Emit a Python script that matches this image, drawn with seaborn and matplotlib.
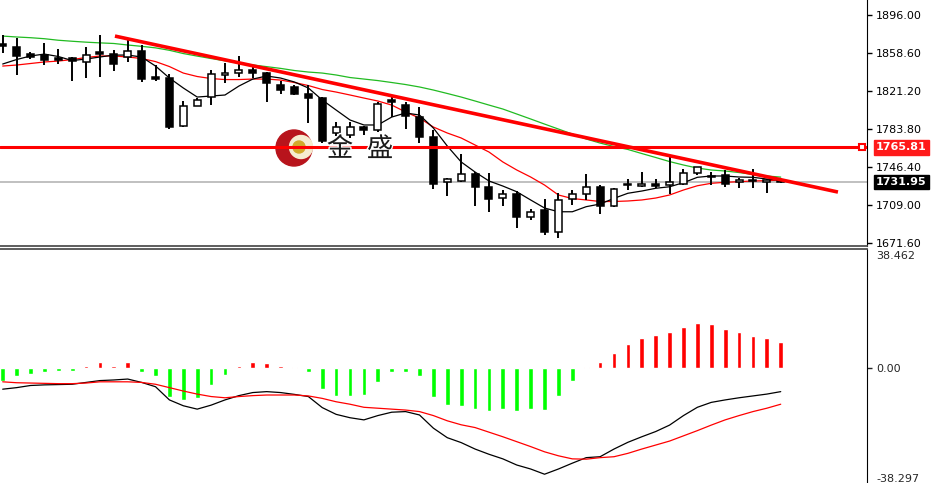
import matplotlib
matplotlib.use("Agg")
import matplotlib.pyplot as plt
import matplotlib.transforms as mtrans
import matplotlib.patheffects as pe
from matplotlib.patches import Circle
import numpy as np
import pandas as pd
import seaborn as sns

# ---- price candles ----
opens = [1867.5, 1864.5, 1857.6, 1856.6, 1853.7, 1853.7, 1850.2, 1859.6, 1858.1, 1855.1,
         1860.6, 1835.0, 1834.5, 1786.8, 1806.4, 1815.8, 1837.0, 1838.9, 1841.9, 1839.4,
         1827.6, 1825.1, 1818.3, 1814.8, 1779.9, 1777.9, 1785.8, 1782.8, 1812.4, 1807.4,
         1796.1, 1776.4, 1731.2, 1732.2, 1739.5, 1726.3, 1716.4, 1719.4, 1697.7, 1704.1,
         1682.0, 1714.9, 1719.9, 1726.3, 1707.6, 1728.7, 1728.2, 1730.2, 1728.7, 1730.2,
         1741.0, 1737.6, 1738.6, 1731.2, 1733.2, 1731.7, 1732.4]
closes = [1865.5, 1855.7, 1854.7, 1851.7, 1851.7, 1850.7, 1856.6, 1857.6, 1847.8, 1861.1,
          1833.0, 1833.0, 1786.3, 1806.4, 1812.4, 1838.4, 1839.4, 1841.9, 1838.9, 1829.1,
          1822.2, 1818.3, 1814.3, 1772.5, 1785.8, 1786.3, 1782.8, 1808.9, 1810.4, 1796.6,
          1776.4, 1730.2, 1735.1, 1739.5, 1726.3, 1715.4, 1719.9, 1697.7, 1701.7, 1682.0,
          1713.5, 1719.4, 1726.3, 1708.5, 1724.8, 1730.2, 1730.2, 1728.2, 1731.2, 1741.0,
          1746.4, 1736.6, 1730.2, 1734.1, 1732.2, 1734.1, 1731.95]
highs = [1876.3, 1873.4, 1860.1, 1868.4, 1862.5, 1855.1, 1865.0, 1876.3, 1861.6, 1871.4,
         1866.5, 1846.8, 1838.4, 1811.4, 1814.3, 1841.9, 1848.8, 1855.7, 1844.8, 1840.4,
         1830.6, 1827.1, 1827.1, 1815.8, 1790.7, 1791.2, 1786.8, 1810.9, 1815.8, 1810.9,
         1805.9, 1782.8, 1735.6, 1759.2, 1741.9, 1741.0, 1724.3, 1723.3, 1705.6, 1714.5,
         1721.3, 1723.8, 1740.0, 1728.7, 1725.8, 1734.6, 1741.9, 1734.6, 1756.8, 1744.5,
         1746.9, 1741.9, 1743.5, 1735.6, 1744.9, 1734.6, 1733.0]
lows = [1858.6, 1837.0, 1853.2, 1846.8, 1847.8, 1831.0, 1834.0, 1835.0, 1841.4, 1849.7,
        1830.1, 1831.0, 1784.3, 1785.8, 1806.0, 1807.4, 1829.0, 1835.0, 1834.5, 1810.9,
        1818.3, 1817.3, 1789.7, 1770.5, 1776.9, 1774.5, 1777.9, 1780.8, 1796.1, 1784.3,
        1769.6, 1724.8, 1717.9, 1731.7, 1708.0, 1702.6, 1707.6, 1686.9, 1694.3, 1679.5,
        1677.0, 1709.0, 1714.0, 1700.2, 1707.0, 1723.8, 1726.7, 1725.3, 1720.0, 1728.7,
        1738.6, 1728.7, 1727.2, 1725.3, 1725.3, 1720.8, 1731.0]

# moving averages
ma_fast = [1847.8, 1852.2, 1855.7, 1857.6, 1855.2, 1851.2, 1852.7, 1854.7, 1856.6, 1856.6,
           1854.7, 1845.8, 1834.0, 1824.2, 1815.3, 1816.3, 1817.3, 1826.1, 1833.0, 1836.0,
           1834.0, 1830.1, 1824.2, 1812.4, 1802.5, 1792.7, 1787.8, 1787.8, 1795.6, 1799.6,
           1797.6, 1784.8, 1767.1, 1751.4, 1741.5, 1732.7, 1727.7, 1722.1, 1714.0, 1706.1,
           1702.4, 1702.4, 1707.4, 1710.0, 1715.6, 1720.6, 1722.8, 1725.5, 1727.0, 1731.0,
           1736.3, 1737.6, 1737.6, 1736.6, 1736.3, 1734.6, 1733.6]
ma_mid = [1845.8, 1846.8, 1848.3, 1849.8, 1850.7, 1852.2, 1854.2, 1855.7, 1855.7, 1854.7,
          1853.2, 1850.2, 1845.3, 1838.9, 1835.5, 1833.5, 1832.5, 1832.5, 1833.0, 1833.0,
          1832.0, 1829.6, 1826.6, 1822.7, 1820.2, 1817.3, 1814.3, 1811.4, 1807.4, 1800.6,
          1794.6, 1785.8, 1779.9, 1775.0, 1768.1, 1761.2, 1751.4, 1743.5, 1736.6, 1728.7,
          1718.9, 1715.4, 1714.0, 1712.5, 1712.5, 1713.0, 1714.0, 1715.9, 1718.9, 1723.8,
          1728.0, 1730.4, 1731.4, 1732.0, 1732.7, 1733.0, 1733.6]
ma_slow = [1875.3, 1874.4, 1873.7, 1872.7, 1871.2, 1870.2, 1869.3, 1868.6, 1868.0, 1866.5,
           1865.2, 1863.7, 1861.3, 1858.1, 1855.6, 1853.2, 1850.9, 1848.7, 1846.9, 1845.2,
           1843.5, 1841.4, 1839.9, 1838.9, 1837.0, 1834.5, 1833.0, 1831.5, 1829.6, 1827.6,
           1825.2, 1822.2, 1818.8, 1815.3, 1811.4, 1807.4, 1803.5, 1798.6, 1793.7, 1788.7,
           1783.8, 1778.9, 1774.0, 1770.0, 1766.6, 1763.7, 1759.7, 1755.8, 1751.8, 1748.4,
           1745.4, 1743.5, 1742.5, 1741.0, 1739.1, 1737.6, 1736.5]

# MACD panel
macd_hist = [-4.2, -2.5, -1.8, -1.2, -0.9, -0.8, 0.8, 1.9, 0.8, 1.9,
             -1.1, -2.5, -9.3, -10.4, -9.7, -5.5, -2.3, 0.6, 2.2, 1.7,
             0.8, 0.3, -1.1, -6.9, -9.0, -9.0, -8.8, -4.4, -1.3, -1.1,
             -2.5, -9.3, -12.0, -12.2, -13.1, -13.9, -13.1, -13.9, -13.1, -13.6,
             -9.0, -4.1, 0.5, 2.0, 5.1, 7.9, 9.8, 10.8, 11.7, 13.6,
             14.7, 14.3, 12.8, 11.7, 10.6, 9.8, 8.7]
macd_main = [-6.8, -6.3, -5.6, -5.4, -5.3, -5.2, -4.6, -4.0, -3.8, -3.5,
             -4.6, -6.0, -10.3, -12.2, -13.3, -12.0, -10.3, -8.9, -7.9, -7.6,
             -7.9, -8.5, -9.2, -12.8, -15.0, -16.1, -16.8, -15.4, -14.3, -14.1,
             -15.2, -19.5, -22.6, -24.2, -26.3, -28.0, -29.5, -31.5, -32.8, -34.5,
             -32.8, -30.9, -29.1, -28.8, -26.3, -24.1, -22.3, -20.6, -18.5, -15.4,
             -12.7, -11.1, -10.3, -9.6, -9.0, -8.4, -7.6]
macd_signal = [-4.4, -4.7, -4.8, -4.9, -5.0, -5.0, -4.8, -4.4, -4.4, -4.4,
               -4.6, -5.2, -6.3, -7.4, -8.4, -9.2, -9.6, -9.2, -8.9, -8.7,
               -8.7, -8.7, -9.0, -9.8, -10.9, -11.7, -12.7, -13.0, -13.3, -13.6,
               -14.1, -15.4, -17.1, -18.4, -19.3, -20.8, -22.3, -23.9, -25.5, -27.2,
               -28.5, -29.5, -29.6, -29.1, -28.8, -27.7, -26.3, -25.0, -23.7, -22.0,
               -20.3, -18.5, -16.8, -15.4, -14.1, -13.0, -11.7]

price_ticks = [1896.00, 1858.60, 1821.20, 1783.80, 1746.40, 1709.00, 1671.60]
level_price = 1765.81
last_price = 1731.95
trend_idx = [8.08, 60.12]
trend_price = [1875.3, 1721.8]
macd_top = 38.462
macd_bottom = -38.297

W, H = 931, 483
XL = (-0.194, 62.21)


def draw_candles(ax, df):
    ax.vlines(df["idx"], df["low"], df["high"], color="black", lw=1.4, zorder=3)
    bottoms = np.minimum(df["open"], df["close"])
    heights = np.maximum(np.abs(df["close"] - df["open"]), 0.9)
    colors = np.where(df["close"] > df["open"], "white", "black")
    ax.bar(df["idx"], heights, bottom=bottoms, width=0.5, color=colors,
           edgecolor="black", linewidth=1.1, zorder=4)


def price_tag(ax, y, text, bg):
    tr = mtrans.blended_transform_factory(ax.transAxes, ax.transData)
    ax.text(1.0105, y, text, transform=tr, ha="left", va="center", color="white",
            fontsize=8, fontweight="bold", clip_on=False, zorder=10,
            bbox=dict(boxstyle="square,pad=0.2", fc=bg, ec=bg))


sns.set_style("white")
plt.rcParams["font.family"] = ["DejaVu Sans", "Noto Sans CJK SC"]

df = pd.DataFrame({"idx": np.arange(len(opens)), "open": opens, "close": closes,
                   "high": highs, "low": lows, "ma_fast": ma_fast, "ma_mid": ma_mid,
                   "ma_slow": ma_slow, "hist": macd_hist, "main": macd_main,
                   "signal": macd_signal})

fig = plt.figure(figsize=(W / 100, H / 100), dpi=100)
ax1 = fig.add_axes([0, 1 - 246 / H, 867 / W, 246 / H])
ax2 = fig.add_axes([0, 0, 867 / W, (H - 249) / H])

# --- price panel ---
sns.lineplot(data=df, x="idx", y="ma_slow", color="#22bb22", lw=0.9, ax=ax1, zorder=2)
sns.lineplot(data=df, x="idx", y="ma_mid", color="red", lw=0.9, ax=ax1, zorder=2)
sns.lineplot(data=df, x="idx", y="ma_fast", color="black", lw=0.9, ax=ax1, zorder=2)
draw_candles(ax1, df)

ax1.axhline(last_price, color="#c0c0c0", lw=1.4, zorder=1)
ax1.axhline(level_price, color="red", lw=2.2, zorder=5)
ax1.plot([61.85], [level_price], marker="s", ms=5, mfc="white", mec="red", mew=1.5,
         zorder=6, clip_on=False)
ax1.plot(trend_idx, trend_price, color="red", lw=2.6, zorder=6, solid_capstyle="butt")

ax1.set_xlim(*XL)
ax1.set_ylim(1668.7, 1910.8)
ax1.set_xticks([])
ax1.yaxis.tick_right()
ax1.set_yticks(price_ticks)
ax1.set_yticklabels([f"{v:.2f}" for v in price_ticks])
ax1.tick_params(axis="y", direction="out", length=3.5, width=1, pad=3, labelsize=8,
                colors="black")
ax1.set_xlabel("")
ax1.set_ylabel("")
for s in ["left", "top"]:
    ax1.spines[s].set_visible(False)
ax1.spines["right"].set_color("black")
ax1.spines["bottom"].set_color("#505050")
ax1.spines["bottom"].set_linewidth(1.3)

price_tag(ax1, level_price, "1765.81", "#ff1a1a")
price_tag(ax1, last_price, "1731.95", "black")

# watermark logo
idt = mtrans.IdentityTransform()
ax1.add_artist(Circle((294, H - 148), 18, color="#b8141c", transform=idt, zorder=1.5,
                      clip_on=False))
ax1.add_artist(Circle((301, H - 147), 11.5, color="#f6ecd0", transform=idt, zorder=1.6,
                      clip_on=False))
ax1.add_artist(Circle((299, H - 147), 6, color="#d2aa2a", transform=idt, zorder=1.7,
                      clip_on=False))
for ch, px in [("金", 340), ("盛", 380)]:
    fig.text(px / W, 1 - 149 / H, ch, ha="center", va="center", fontsize=19,
             family=["Noto Sans CJK SC", "DejaVu Sans"], color="#1a1a1a", zorder=7,
             path_effects=[pe.withStroke(linewidth=2, foreground="white")])

# --- MACD panel ---
bar_colors = np.where(df["hist"] >= 0, "#ff0000", "#00ff00")
ax2.bar(df["idx"], df["hist"], width=0.34, color=bar_colors, zorder=2)
sns.lineplot(data=df, x="idx", y="main", color="black", lw=0.9, ax=ax2, zorder=3)
sns.lineplot(data=df, x="idx", y="signal", color="red", lw=0.9, ax=ax2, zorder=3)

ax2.set_xlim(*XL)
ax2.set_ylim(-37.36, 38.86)
ax2.set_xticks([])
ax2.yaxis.tick_right()
ax2.set_yticks([0])
ax2.set_yticklabels(["0.00"])
ax2.tick_params(axis="y", direction="out", length=3.5, width=1, pad=3, labelsize=8)
ax2.set_xlabel("")
ax2.set_ylabel("")
for s in ["left", "bottom"]:
    ax2.spines[s].set_visible(False)
ax2.spines["right"].set_color("black")
ax2.spines["top"].set_color("#505050")
ax2.spines["top"].set_linewidth(1.3)
ax2.text(1.0105, 0.99, f"{macd_top:.3f}", transform=ax2.transAxes, ha="left", va="top",
         fontsize=8, clip_on=False)
ax2.text(1.0105, 0.04, f"{macd_bottom:.3f}", transform=ax2.transAxes, ha="left",
         va="top", fontsize=8, clip_on=False)

fig.savefig("out.png", dpi=100)
